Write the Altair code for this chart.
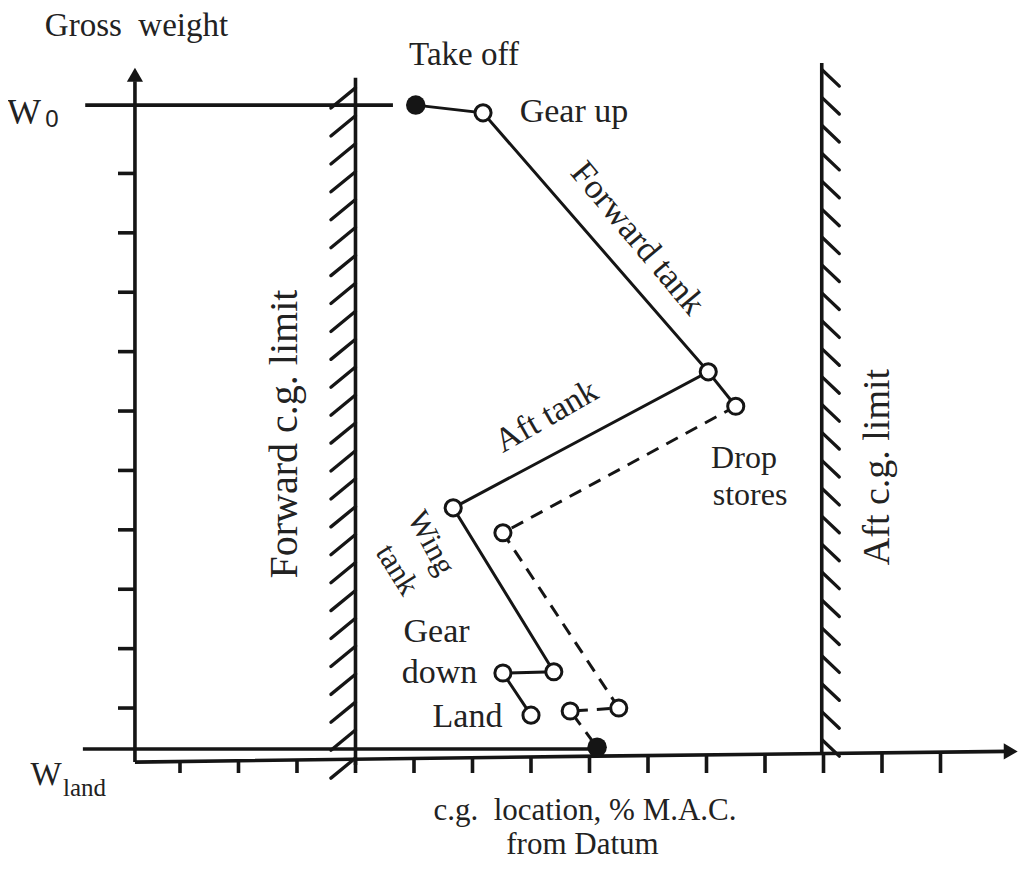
import altair as alt
import pandas as pd
import numpy as np

# ---- data (x: c.g. location in tick units, y: gross weight in tick units) ----
# solid path: Take off -> Gear up -> Forward tank -> Aft tank -> Wing tank -> Gear down -> Land
main_x = [4.03, 5.18, 9.03, 4.67, 6.39, 5.52, 6.00]
main_y = [11.15, 11.02, 6.66, 4.37, 1.61, 1.59, 0.88]
# short link to the drop-stores point
link_x = [9.03, 9.50]
link_y = [6.66, 6.08]
# dashed path after dropping stores
drop_x = [9.50, 5.52, 7.50, 6.67, 7.13]
drop_y = [6.08, 3.95, 1.00, 0.95, 0.34]

open_x = [5.18, 9.03, 9.50, 4.67, 5.52, 6.39, 5.52, 6.00, 7.50, 6.67]
open_y = [11.02, 6.66, 6.08, 4.37, 3.95, 1.61, 1.59, 0.88, 1.00, 0.95]
filled_x = [4.03, 7.13]
filled_y = [11.15, 0.34]

w0 = 11.15
w_land = 0.31
fwd_limit = 3.0
aft_limit = 10.97
y_axis_x = -0.77
x_ticks = list(range(0, 14))
y_ticks = list(range(1, 11))

# labels: text, x, y, angle, font size
labels = ["Gross\u00a0\u00a0weight", "Take off", "Gear up", "Forward tank", "Aft tank",
          "Drop", "stores", "Wing", "tank", "Gear", "down", "Land",
          "Forward c.g. limit", "Aft c.g. limit",
          "c.g.\u00a0\u00a0location, % M.A.C.", "from Datum", "W", "W"]
label_x = [-0.744, 4.855, 6.735, 7.829, 6.265, 9.641, 9.744, 4.286, 3.704, 4.385, 4.436, 4.915,
           1.795, 11.932, 6.923, 6.880, -2.667, -2.291]
label_y = [12.48, 11.99, 11.037, 8.912, 5.907, 5.202, 4.579, 3.778, 3.323, 2.283, 1.593, 0.852,
           5.613, 5.057, -0.73, -1.307, 11.017, -0.128]
label_angle = [0, 0, 0, 50, 330, 0, 0, 62, 58, 0, 0, 0, 270, 270, 0, 0, 0, 0]
label_size = [33, 33, 34, 35, 34, 32, 32, 31, 31, 34, 34, 34, 40, 38, 31, 31, 36, 33]

sub_labels = ["0", "land"]
sub_x = [-2.188, -1.632]
sub_y = [10.892, -0.338]
sub_size = [24, 25]
sub_font = ["Liberation Sans", "Liberation Serif"]

# ---- scales ----
xs = alt.Scale(domain=[-2.940, 14.376], nice=False, zero=False)
ys = alt.Scale(domain=[-1.575, 12.785], nice=False, zero=False)
INK = "#151515"


def X(f="x"):
    return alt.X(f"{f}:Q", scale=xs, axis=None)


def Y(f="y"):
    return alt.Y(f"{f}:Q", scale=ys, axis=None)


# ---- frame geometry ----
axis_px = [y_axis_x, 7.13, 14.15]
axis_py = [0.09, 0.19, 0.27]
x_axis = pd.DataFrame({"x": axis_px, "y": axis_py, "i": [0, 1, 2]})

segs = []
segs.append((y_axis_x, 0.09, y_axis_x, 11.55))           # y axis
segs.append((-1.62, w0, 3.64, w0))                        # W0 line
segs.append((-1.66, w_land, 7.13, w_land))                # W_land line
segs.append((fwd_limit, 0.04, fwd_limit, 11.61))          # forward limit
segs.append((aft_limit, 0.26, aft_limit, 11.86))          # aft limit
for v in y_ticks:
    segs.append((y_axis_x - 0.29, v, y_axis_x, v))
for k in x_ticks:
    top = float(np.interp(k, axis_px, axis_py))
    segs.append((k, top, k, -0.094))
seg_df = pd.DataFrame(segs, columns=["x", "y", "x2", "y2"])

hatch = []
for v in np.arange(11.44, 0.0, -0.47):
    hatch.append((fwd_limit, v, fwd_limit - 0.42, v - 0.34))
for v in np.arange(11.75, 0.4, -0.47):
    hatch.append((aft_limit, v, aft_limit + 0.30, v - 0.28))
hatch_df = pd.DataFrame(hatch, columns=["x", "y", "x2", "y2"])

frame = alt.Chart(seg_df).mark_rule(color=INK, strokeWidth=3.6, strokeCap="butt").encode(
    x=X(), y=Y(), x2="x2:Q", y2="y2:Q")
hatches = alt.Chart(hatch_df).mark_rule(color=INK, strokeWidth=3.3, strokeCap="round").encode(
    x=X(), y=Y(), x2="x2:Q", y2="y2:Q")
xaxis_line = alt.Chart(x_axis).mark_line(color=INK, strokeWidth=3.6).encode(
    x=X(), y=Y(), order="i:Q")

arrows_up = alt.Chart(pd.DataFrame({"x": [y_axis_x], "y": [11.66]})).mark_point(
    shape="triangle-up", filled=True, color=INK, size=260, opacity=1).encode(x=X(), y=Y())
arrows_right = alt.Chart(pd.DataFrame({"x": [14.2], "y": [0.27]})).mark_point(
    shape="triangle-right", filled=True, color=INK, size=260, opacity=1).encode(x=X(), y=Y())

main_df = pd.DataFrame({"x": main_x, "y": main_y, "i": range(len(main_x))})
link_df = pd.DataFrame({"x": link_x, "y": link_y, "i": range(len(link_x))})
drop_df = pd.DataFrame({"x": drop_x, "y": drop_y, "i": range(len(drop_x))})

main_line = alt.Chart(main_df).mark_line(color=INK, strokeWidth=3).encode(x=X(), y=Y(), order="i:Q")
link_line = alt.Chart(link_df).mark_line(color=INK, strokeWidth=3).encode(x=X(), y=Y(), order="i:Q")
drop_line = alt.Chart(drop_df).mark_line(color=INK, strokeWidth=3, strokeDash=[13, 9]).encode(
    x=X(), y=Y(), order="i:Q")

open_pts = alt.Chart(pd.DataFrame({"x": open_x, "y": open_y})).mark_point(
    shape="circle", filled=True, fill="white", stroke=INK, strokeWidth=3, size=260, opacity=1
).encode(x=X(), y=Y())
filled_pts = alt.Chart(pd.DataFrame({"x": filled_x, "y": filled_y})).mark_point(
    shape="circle", filled=True, color=INK, size=380, opacity=1).encode(x=X(), y=Y())

lab_df = pd.DataFrame({"t": labels, "x": label_x, "y": label_y, "a": label_angle, "s": label_size})
texts = alt.Chart(lab_df).mark_text(font="Liberation Serif", color="#222", align="center",
                                    baseline="middle").encode(
    x=X(), y=Y(), text="t:N", angle=alt.Angle("a:Q", scale=None), size=alt.Size("s:Q", scale=None))

sub_layers = []
for t, sx, sy, ss, sf in zip(sub_labels, sub_x, sub_y, sub_size, sub_font):
    sub_layers.append(
        alt.Chart(pd.DataFrame({"t": [t], "x": [sx], "y": [sy]})).mark_text(
            font=sf, fontSize=ss, color="#222", align="center", baseline="middle").encode(
            x=X(), y=Y(), text="t:N"))

chart = alt.layer(
    hatches, frame, xaxis_line, arrows_up, arrows_right,
    main_line, link_line, drop_line, open_pts, filled_pts, texts, *sub_layers
).properties(
    width=1013, height=853, padding=0, autosize="none", background="white"
).configure_view(stroke=None)

chart.save("out.html", embed_options={"renderer": "svg", "actions": False})
